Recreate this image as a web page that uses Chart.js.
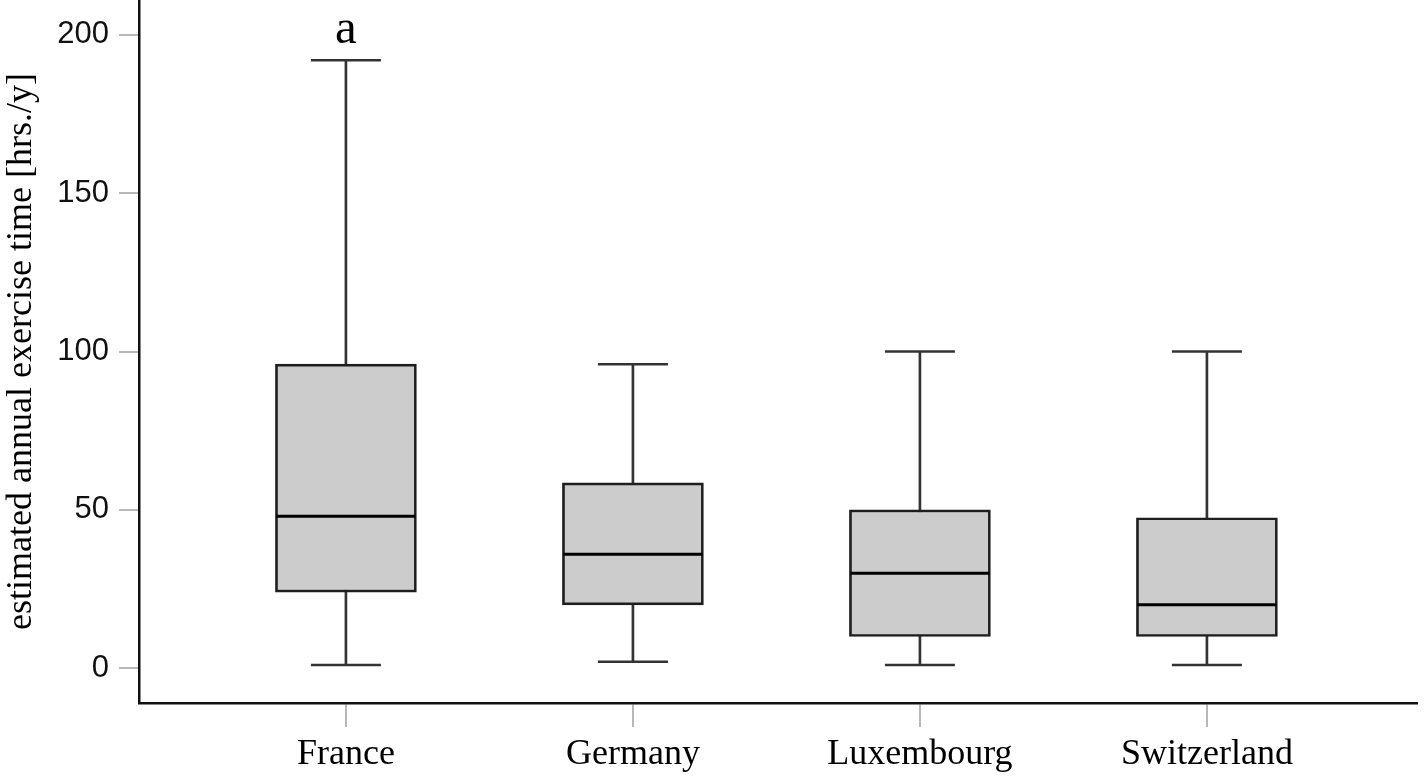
<!DOCTYPE html>
<html>
<head>
<meta charset="utf-8">
<script src="https://cdn.jsdelivr.net/npm/chart.js@4"></script>
<style>
  html, body { margin: 0; padding: 0; background: #fff; }
  #wrap { width: 1424px; height: 778px; }
</style>
</head>
<body>
<div id="wrap"><canvas id="boxChart"></canvas></div>
<script>
// values (hrs./y)
var categories = ["France", "Germany", "Luxembourg", "Switzerland"];
var whiskerLow = [1, 2, 1, 1];
var q1 = [24, 20, 10, 10];
var median = [48, 36, 30, 20];
var q3 = [96, 58.5, 50, 47.5];
var whiskerHigh = [192, 96, 100, 100];
var letters = ["a", "", "", ""];
var yTicks = [0, 50, 100, 150, 200];

var boxes = categories.map(function (c, i) { return { x: i, y: [q1[i], q3[i]] }; });
var whiskers = categories.map(function (c, i) { return { x: i, y: [whiskerLow[i], whiskerHigh[i]] }; });
var capsLow = categories.map(function (c, i) { return { x: i, y: whiskerLow[i] }; });
var capsHigh = categories.map(function (c, i) { return { x: i, y: whiskerHigh[i] }; });
var medians = categories.map(function (c, i) { return { x: i, y: median[i] }; });

// letter above the upper whisker
var letterPlugin = {
    id: 'letters',
    afterDatasetsDraw: function (chart) {
        var ctx = chart.ctx, xs = chart.scales.x, ys = chart.scales.y;
        ctx.save();
        ctx.font = '49px "Liberation Serif"';
        ctx.fillStyle = '#000';
        ctx.textAlign = 'center';
        ctx.textBaseline = 'alphabetic';
        letters.forEach(function (t, i) {
            if (t) ctx.fillText(t, xs.getPixelForValue(i), ys.getPixelForValue(whiskerHigh[i]) - 17);
        });
        ctx.restore();
    }
};

new Chart(document.getElementById("boxChart"), {
    type: 'bar',
    data: {
        datasets: [
            {
                label: 'whisker',
                data: whiskers,
                backgroundColor: '#333',
                borderWidth: 0,
                barThickness: 2,
                grouped: false,
                order: 3
            },
            {
                label: 'box',
                data: boxes,
                backgroundColor: '#cccccc',
                borderColor: '#1e1e1e',
                borderWidth: 2.7,
                borderSkipped: false,
                barThickness: 141,
                grouped: false,
                order: 2
            },
            {
                type: 'line',
                label: 'capLow',
                data: capsLow,
                showLine: false,
                pointStyle: 'line',
                pointRadius: 35,
                pointHoverRadius: 35,
                pointBorderColor: '#333',
                pointBorderWidth: 2.5,
                order: 1
            },
            {
                type: 'line',
                label: 'capHigh',
                data: capsHigh,
                showLine: false,
                pointStyle: 'line',
                pointRadius: 35,
                pointHoverRadius: 35,
                pointBorderColor: '#333',
                pointBorderWidth: 2.5,
                order: 1
            },
            {
                type: 'line',
                label: 'median',
                data: medians,
                showLine: false,
                pointStyle: 'line',
                pointRadius: 69.5,
                pointHoverRadius: 69.5,
                pointBorderColor: '#000',
                pointBorderWidth: 3,
                order: 0
            }
        ]
    },
    options: {
        responsive: true,
        maintainAspectRatio: false,
        animation: false,
        layout: { autoPadding: false, padding: { top: 0, right: 7, bottom: 0, left: 0 } },
        plugins: {
            legend: { display: false },
            tooltip: { enabled: false }
        },
        scales: {
            x: {
                type: 'linear',
                offset: false,
                min: -0.721,
                max: 3.732,
                afterBuildTicks: function (s) {
                    s.ticks = categories.map(function (c, i) { return { value: i }; });
                },
                afterFit: function (s) { s.height = 75; },
                ticks: {
                    callback: function (v) { return categories[v]; },
                    font: { family: 'Liberation Serif', size: 36 },
                    color: '#000',
                    padding: 6,
                    maxRotation: 0,
                    autoSkip: false
                },
                grid: {
                    offset: false,
                    drawOnChartArea: false,
                    drawTicks: true,
                    tickLength: 24,
                    color: '#b8b8b8',
                    tickColor: '#b8b8b8',
                    lineWidth: 2
                },
                border: { display: true, color: '#111', width: 2.5 }
            },
            y: {
                min: -11,
                max: 211,
                afterBuildTicks: function (s) {
                    s.ticks = yTicks.map(function (v) { return { value: v }; });
                },
                afterFit: function (s) {
                    s.width = 139;
                    s.paddingTop = 0;
                    s.paddingBottom = 0;
                },
                ticks: {
                    font: { family: 'Liberation Sans', size: 31 },
                    color: '#111',
                    padding: 10
                },
                grid: {
                    drawOnChartArea: false,
                    drawTicks: true,
                    tickLength: 20,
                    color: '#b8b8b8',
                    tickColor: '#b8b8b8',
                    lineWidth: 2
                },
                border: { display: true, color: '#111', width: 2.5 },
                title: {
                    display: true,
                    text: 'estimated annual exercise time [hrs./y]',
                    font: { family: 'Liberation Serif', size: 36 },
                    color: '#000',
                    padding: { top: 0, bottom: 0 }
                }
            }
        }
    },
    plugins: [letterPlugin]
});
</script>
</body>
</html>
